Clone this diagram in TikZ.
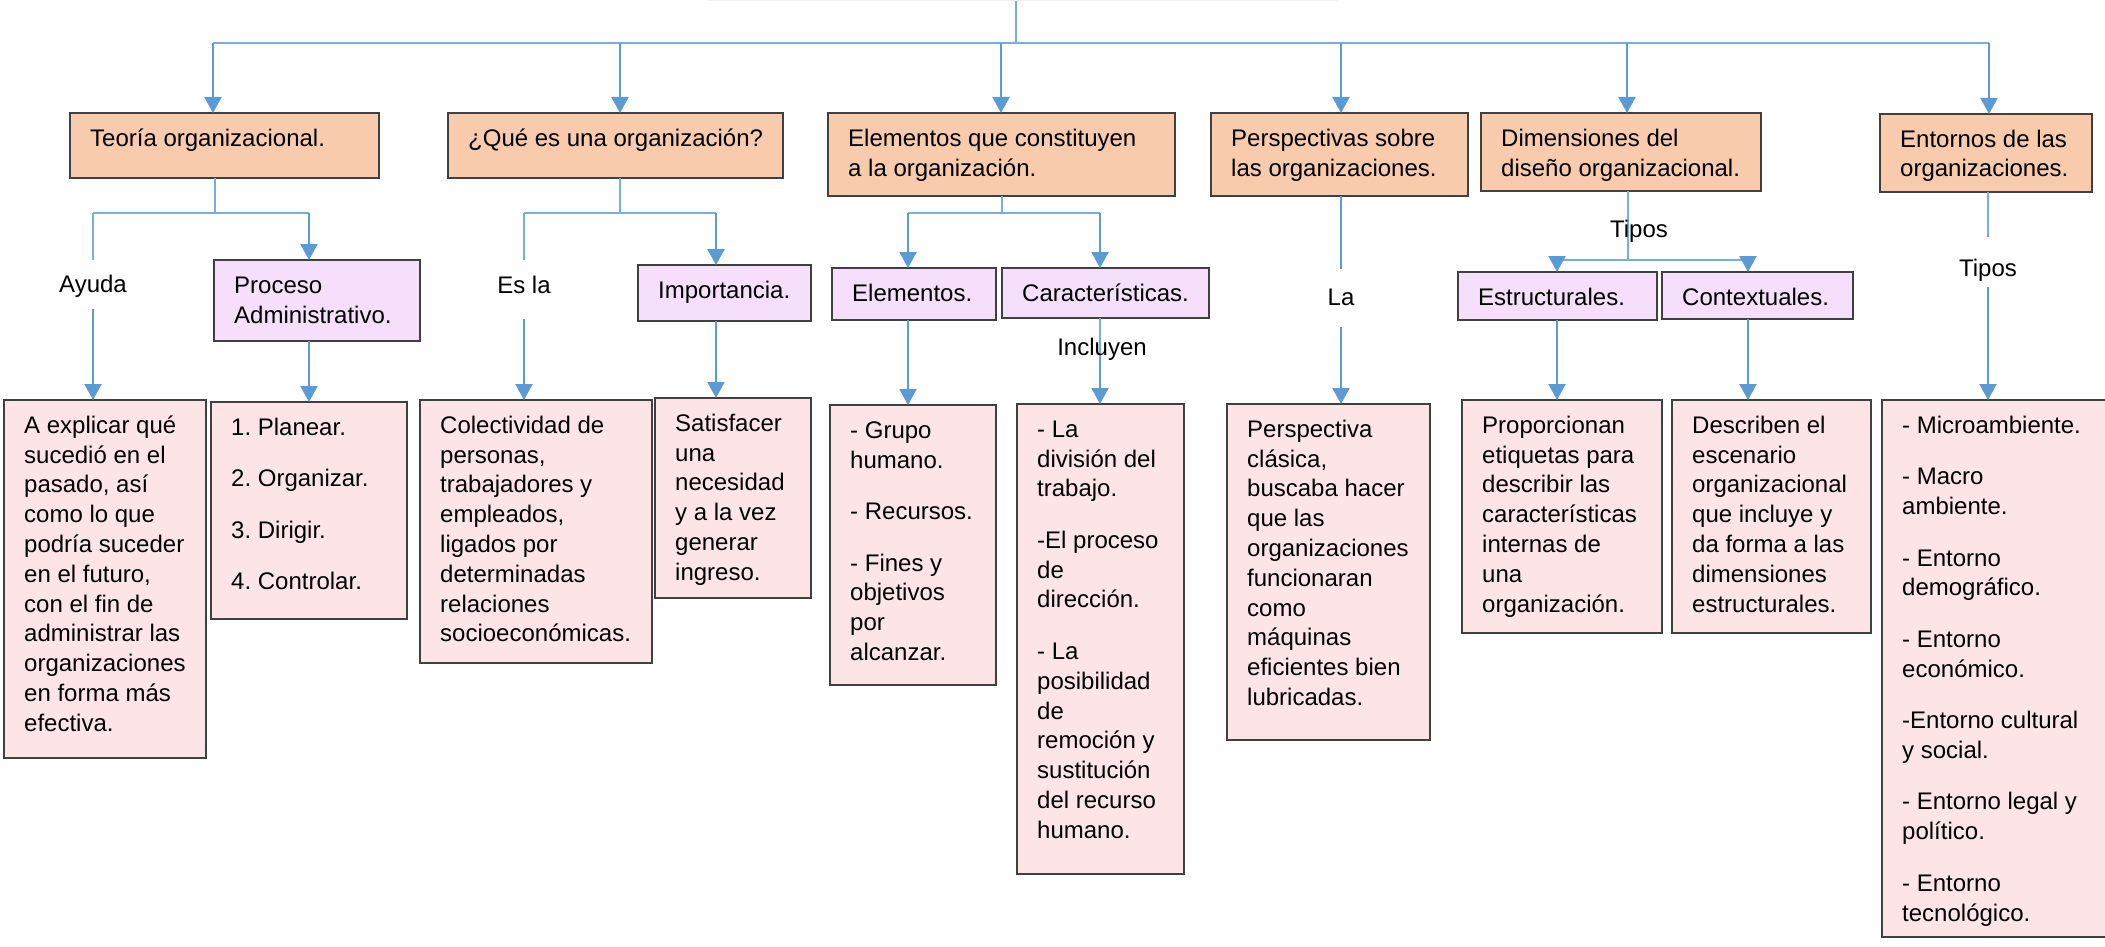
\documentclass[tikz,border=0pt]{standalone}
\usepackage{fontspec}
\setmainfont{Liberation Sans}
\usetikzlibrary{arrows.meta}
\definecolor{naranja}{HTML}{F8CBAD}
\definecolor{lila}{HTML}{F6DFFA}
\definecolor{rosa}{HTML}{FDE5E7}
\definecolor{azul}{HTML}{5B9BD5}
\definecolor{azulclaro}{HTML}{7AACDE}
\definecolor{borde}{HTML}{404040}
\newcommand{\gapp}{21.7pt}
\newcommand{\caja}[7]{%
  \node[#2, minimum width={(#5-#3)*1pt}, minimum height={(#6-#4)*1pt}] (#1) at (#3,#4) {};
  \node[txt] (#1t) at ([shift={(20,11)}]#1.north west) {\rule{0pt}{22pt}#7};
}
\tikzset{
  cajabase/.style={draw=borde, line width=1.3pt, anchor=north west, inner sep=0pt, outer sep=0pt},
  nivelA/.style={cajabase, fill=naranja},
  nivelB/.style={cajabase, fill=lila},
  nivelC/.style={cajabase, fill=rosa},
  txt/.style={anchor=north west, inner sep=0pt, align=left, font=\fontsize{24}{29.8}\selectfont\frenchspacing},
  etiqueta/.style={anchor=base, inner xsep=2pt, inner ysep=0pt, font=\fontsize{24}{29.8}\selectfont},
  flecha/.style={draw=azul, line width=2.2pt, -{Triangle[width=17pt,length=16pt]}},
  linea/.style={draw=azulclaro, line width=1.3pt},
  lineagruesa/.style={draw=azul, line width=2.2pt},
}
\begin{document}
\begin{tikzpicture}[x=1pt,y=-1pt]
\fill[white] (0,0) rectangle (2105,947);
\useasboundingbox (0,0) rectangle (2105,947);

% cropped root
\node[draw=gray!12, line width=1pt, anchor=south west, inner sep=0pt, outer sep=0pt,
      minimum width=628pt, minimum height=60pt] (raiz) at (708,1) {};

% level 1
\caja{teoria}{nivelA}{70}{113}{379}{178}{Teoría organizacional.}
\caja{que}{nivelA}{448}{113}{783}{178}{¿Qué es una organización?}
\caja{elem}{nivelA}{828}{113}{1175}{196}{Elementos que constituyen\\a la organización.}
\caja{persp}{nivelA}{1211}{113}{1468}{196}{Perspectivas sobre\\las organizaciones.}
\caja{dim}{nivelA}{1481}{113}{1761}{191}{Dimensiones del\\diseño organizacional.}
\caja{entornos}{nivelA}{1880}{114}{2092}{192}{Entornos de las\\organizaciones.}

% level 2
\caja{proceso}{nivelB}{214}{260}{420}{341}{Proceso\\Administrativo.}
\caja{importancia}{nivelB}{638}{265}{811}{321}{Importancia.}
\caja{elementos}{nivelB}{832}{268}{996}{320}{Elementos.}
\caja{caract}{nivelB}{1002}{268}{1209}{318}{Características.}
\caja{estruct}{nivelB}{1458}{272}{1657}{320}{Estructurales.}
\caja{context}{nivelB}{1662}{272}{1853}{319}{Contextuales.}

% level 3
\caja{explica}{nivelC}{4}{400}{206}{758}{A explicar qué\\sucedió en el\\pasado, así\\como lo que\\podría suceder\\en el futuro,\\con el fin de\\administrar las\\organizaciones\\en forma más\\efectiva.}
\caja{planear}{nivelC}{211}{402}{407}{619}{1. Planear.\\[\gapp]2. Organizar.\\[\gapp]3. Dirigir.\\[\gapp]4. Controlar.}
\caja{colect}{nivelC}{420}{400}{652}{663}{Colectividad de\\personas,\\trabajadores y\\empleados,\\ligados por\\determinadas\\relaciones\\socioeconómicas.}
\caja{satisf}{nivelC}{655}{398}{811}{598}{Satisfacer\\una\\necesidad\\y a la vez\\generar\\ingreso.}
\caja{grupo}{nivelC}{830}{405}{996}{685}{- Grupo\\humano.\\[\gapp]- Recursos.\\[\gapp]- Fines y\\objetivos\\por\\alcanzar.}
\caja{division}{nivelC}{1017}{404}{1184}{874}{- La\\división del\\trabajo.\\[\gapp]-El proceso\\de\\dirección.\\[\gapp]- La\\posibilidad\\de\\remoción y\\sustitución\\del recurso\\humano.}
\caja{clasica}{nivelC}{1227}{404}{1430}{740}{Perspectiva\\clásica,\\buscaba hacer\\que las\\organizaciones\\funcionaran\\como\\máquinas\\eficientes bien\\lubricadas.}
\caja{proporc}{nivelC}{1462}{400}{1662}{633}{Proporcionan\\etiquetas para\\describir las\\características\\internas de\\una\\organización.}
\caja{describ}{nivelC}{1672}{400}{1871}{633}{Describen el\\escenario\\organizacional\\que incluye y\\da forma a las\\dimensiones\\estructurales.}
\caja{lista}{nivelC}{1882}{400}{2115}{937}{- Microambiente.\\[\gapp]- Macro\\ambiente.\\[\gapp]- Entorno\\demográfico.\\[\gapp]- Entorno\\económico.\\[\gapp]-Entorno cultural\\y social.\\[\gapp]- Entorno legal y\\político.\\[\gapp]- Entorno\\tecnológico.}

% top bus
\coordinate (bus) at (1016,43);
\coordinate (a1) at (213,43);
\coordinate (a2) at (620,43);
\coordinate (a3) at (1001,43);
\coordinate (a4) at (1341,43);
\coordinate (a5) at (1627,43);
\coordinate (a6) at (1989,43);
\draw[linea] (raiz.south -| bus) -- (bus);
\draw[linea] (a1) -- (a6);
\draw[flecha] (a1) -- (teoria.north -| a1);
\draw[flecha] (a2) -- (que.north -| a2);
\draw[flecha] (a3) -- (elem.north -| a3);
\draw[flecha] (a4) -- (persp.north -| a4);
\draw[flecha] (a5) -- (dim.north -| a5);
\draw[flecha] (a6) -- (entornos.north -| a6);

% group 1
\coordinate (g1) at (215,213);
\coordinate (g1l) at (93,213);
\coordinate (g1r) at (309,213);
\node[etiqueta, text height=32pt, text depth=17pt] (ayuda) at (93,292) {Ayuda};
\draw[linea] (teoria.south -| g1) -- (g1);
\draw[linea] (g1l) -- (g1r);
\draw[linea] (g1l) -- (ayuda.north);
\draw[flecha] (ayuda.south) -- (explica.north -| ayuda.south);
\draw[flecha] (g1r) -- (proceso.north -| g1r);
\draw[flecha] (proceso.south -| g1r) -- (planear.north -| g1r);

% group 2
\coordinate (g2) at (620,213);
\coordinate (g2l) at (524,213);
\coordinate (g2r) at (716,213);
\node[etiqueta, text height=33pt, text depth=26pt] (esla) at (524,293) {Es la};
\draw[linea] (que.south -| g2) -- (g2);
\draw[linea] (g2l) -- (g2r);
\draw[linea] (g2l) -- (esla.north);
\draw[flecha] (esla.south) -- (colect.north -| esla.south);
\draw[flecha] (g2r) -- (importancia.north -| g2r);
\draw[flecha] (importancia.south -| g2r) -- (satisf.north -| g2r);

% group 3
\coordinate (g3) at (1002,213);
\coordinate (g3l) at (908,213);
\coordinate (g3r) at (1100,213);
\coordinate (inc) at (1100,357);
\draw[linea] (elem.south -| g3) -- (g3);
\draw[linea] (g3l) -- (g3r);
\draw[flecha] (g3l) -- (elementos.north -| g3l);
\draw[flecha] (g3r) -- (caract.north -| g3r);
\draw[flecha] (elementos.south -| g3l) -- (grupo.north -| g3l);
\draw[linea] (caract.south -| g3r) -- (inc);
\draw[flecha] (inc) -- (division.north -| inc);
\node[etiqueta] (incluyen) at (1102,355) {Incluyen};

% group 4
\node[etiqueta, text height=36pt, text depth=22pt] (la) at (1341,305) {La};
\draw[lineagruesa] (persp.south -| la) -- (la.north);
\draw[flecha] (la.south) -- (clasica.north -| la.south);

% group 5
\coordinate (g5) at (1628,260);
\coordinate (g5l) at (1557,260);
\coordinate (g5r) at (1748,260);
\draw[linea] (dim.south -| g5) -- (g5);
\draw[linea] (g5l) -- (g5r);
\draw[flecha] (g5l) -- (estruct.north -| g5l);
\draw[flecha] (g5r) -- (context.north -| g5r);
\draw[flecha] (estruct.south -| g5l) -- (proporc.north -| g5l);
\draw[flecha] (context.south -| g5r) -- (describ.north -| g5r);
\node[etiqueta] (tipos1) at (1639,237) {Tipos};

% group 6
\node[etiqueta, text height=39pt, text depth=11pt] (tipos2) at (1988,276) {Tipos};
\draw[linea] (entornos.south -| tipos2) -- (tipos2.north);
\draw[flecha] (tipos2.south) -- (lista.north -| tipos2.south);
\end{tikzpicture}
\end{document}
